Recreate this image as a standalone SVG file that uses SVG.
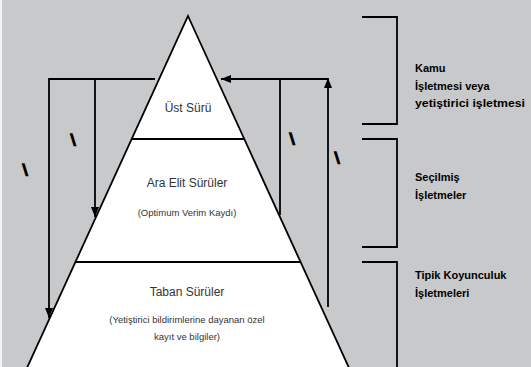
<svg xmlns="http://www.w3.org/2000/svg" width="531" height="367" viewBox="0 0 531 367">
<defs>
<style>
.ln{stroke:#000;stroke-width:1.8;fill:none}
.pt{font-family:"Liberation Sans",Arial,sans-serif;fill:#333;text-anchor:middle}
.lb{font-family:"Liberation Sans",Arial,sans-serif;font-weight:bold;font-size:11px;fill:#000}
.bs{font-family:"DejaVu Sans",sans-serif;font-weight:bold;font-size:14px;fill:#000;stroke:#000;stroke-width:1.3;text-anchor:middle}
</style>
<marker id="ah" viewBox="0 0 10 8" refX="10" refY="4" markerWidth="10" markerHeight="8" markerUnits="userSpaceOnUse" orient="auto">
<path d="M0,0 L10,4 L0,8 Z" fill="#000"/>
</marker>
</defs>
<rect x="0" y="0" width="531" height="367" fill="#c8c9cb"/>
<rect x="0" y="0" width="2" height="367" fill="#f4f4f4"/>
<g id="pyramid">
<polygon points="188,16 350,370 26,370" fill="#fff" stroke="#000" stroke-width="1.8"/>
</g>
<g id="ust-suru">
<line class="ln" x1="131.8" y1="139" x2="244.2" y2="139"/>
<text class="pt" x="188" y="112" font-size="12">Üst Sürü</text>
</g>
<g id="ara-elit">
<line class="ln" x1="75.6" y1="262" x2="300.4" y2="262"/>
<text class="pt" x="187" y="187" font-size="12">Ara Elit Sürüler</text>
<text class="pt" x="187" y="216" font-size="9.5">(Optimum Verim Kaydı)</text>
</g>
<g id="taban">
<text class="pt" x="187" y="296" font-size="12">Taban Sürüler</text>
<text class="pt" x="187" y="323" font-size="9.5">(Yetiştirici bildirimlerine dayanan özel</text>
<text class="pt" x="187" y="340" font-size="9.5">kayıt ve bilgiler)</text>
</g>
<g id="connectors">
<polyline class="ln" points="155,79 49,79 49,318" marker-end="url(#ah)"/>
<line class="ln" x1="95" y1="79" x2="95" y2="217" marker-end="url(#ah)"/>
<line class="ln" x1="328" y1="307" x2="328" y2="78" marker-end="url(#ah)"/>
<line class="ln" x1="328" y1="79" x2="221" y2="79" marker-end="url(#ah)"/>
<line class="ln" x1="280" y1="79" x2="280" y2="215"/>
<text class="bs" x="73" y="144">\</text>
<text class="bs" x="25" y="174">\</text>
<text class="bs" x="292" y="143">\</text>
<text class="bs" x="337" y="162">\</text>
</g>
<g id="group-kamu">
<polyline class="ln" points="362,17 397,17 397,124 362,124"/>
<text class="lb" x="415" y="72">Kamu</text>
<text class="lb" x="415" y="90">İşletmesi veya</text>
<text class="lb" x="415" y="107" textLength="110" lengthAdjust="spacingAndGlyphs">yetiştirici işletmesi</text>
</g>
<g id="group-secilmis">
<polyline class="ln" points="362,139 397,139 397,247 362,247"/>
<text class="lb" x="415" y="181">Seçilmiş</text>
<text class="lb" x="415" y="199">İşletmeler</text>
</g>
<g id="group-tipik">
<polyline class="ln" points="362,262 397,262 397,370"/>
<text class="lb" x="415" y="279">Tipik Koyunculuk</text>
<text class="lb" x="415" y="297">İşletmeleri</text>
</g>
</svg>
